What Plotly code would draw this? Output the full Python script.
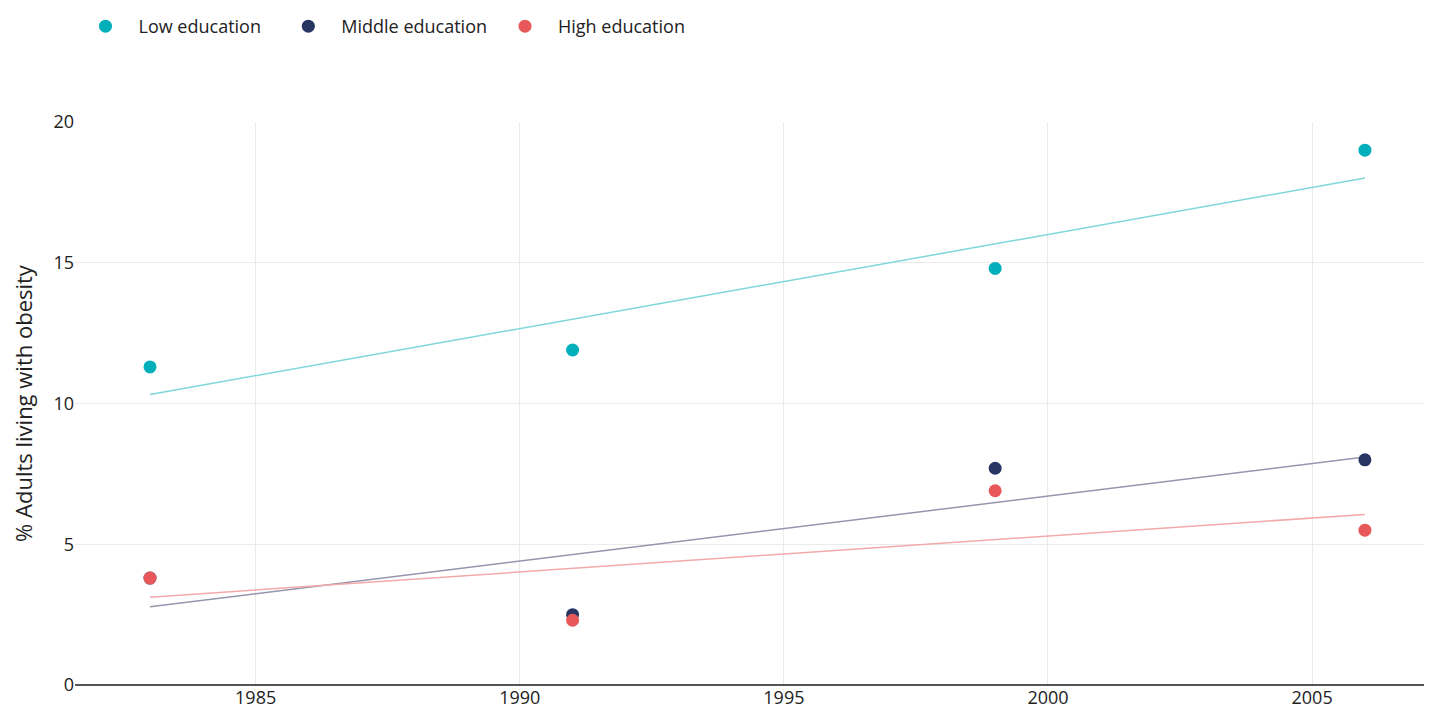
import plotly.graph_objects as go

years = [1983, 1991, 1999, 2006]
low = [11.3, 11.9, 14.8, 19.0]
middle = [3.8, 2.5, 7.7, 8.0]
high = [3.8, 2.3, 6.9, 5.5]

trend_years = [1983, 2006]
low_trend = [10.32, 18.01]
middle_trend = [2.78, 8.10]
high_trend = [3.12, 6.06]

names = ["Low education", "Middle education", "High education"]
colors = ["#00AFBA", "#283462", "#E8585A"]
line_colors = ["#7FD7DC", "#9396AE", "#F4A9AA"]
pads = ["\u00a0\u00a0", "", ""]

FONT = "'Open Sans', Lato, sans-serif"

fig = go.Figure()
for tv, lc in zip([low_trend, middle_trend, high_trend], line_colors):
    fig.add_trace(go.Scatter(x=trend_years, y=tv, mode="lines",
                             line=dict(color=lc, width=1.5), showlegend=False,
                             hoverinfo="skip"))
for vals, name, c, p in zip([low, middle, high], names, colors, pads):
    fig.add_trace(go.Scatter(x=years, y=vals, mode="markers", name=name + p,
                             marker=dict(color=c, size=13)))

fig.update_layout(
    width=1424, height=703,
    margin=dict(l=67, r=0, t=114, b=26),
    paper_bgcolor="white", plot_bgcolor="white",
    font=dict(family=FONT, size=17, color="#222"),
    legend=dict(orientation="h", xref="container", yref="container",
                x=0.0453, y=1.0, xanchor="left", yanchor="top",
                font=dict(size=18), itemwidth=56, tracegroupgap=0),
    xaxis=dict(range=[1981.58, 2007.27], tickvals=[1985, 1990, 1995, 2000, 2005],
               showgrid=True, gridcolor="#EBEBEB", gridwidth=1,
               zeroline=False, showline=False, ticks="",
               tickfont=dict(size=18)),
    yaxis=dict(range=[0, 20], tickvals=[0, 5, 10, 15, 20],
               showgrid=True, gridcolor="#EBEBEB", gridwidth=1,
               zeroline=True, zerolinecolor="#555", zerolinewidth=2,
               showline=False, ticks="",
               title=dict(text="% Adults living with obesity", font=dict(size=22), standoff=14),
               tickfont=dict(size=18)),
)
fig.write_html("out.html")
